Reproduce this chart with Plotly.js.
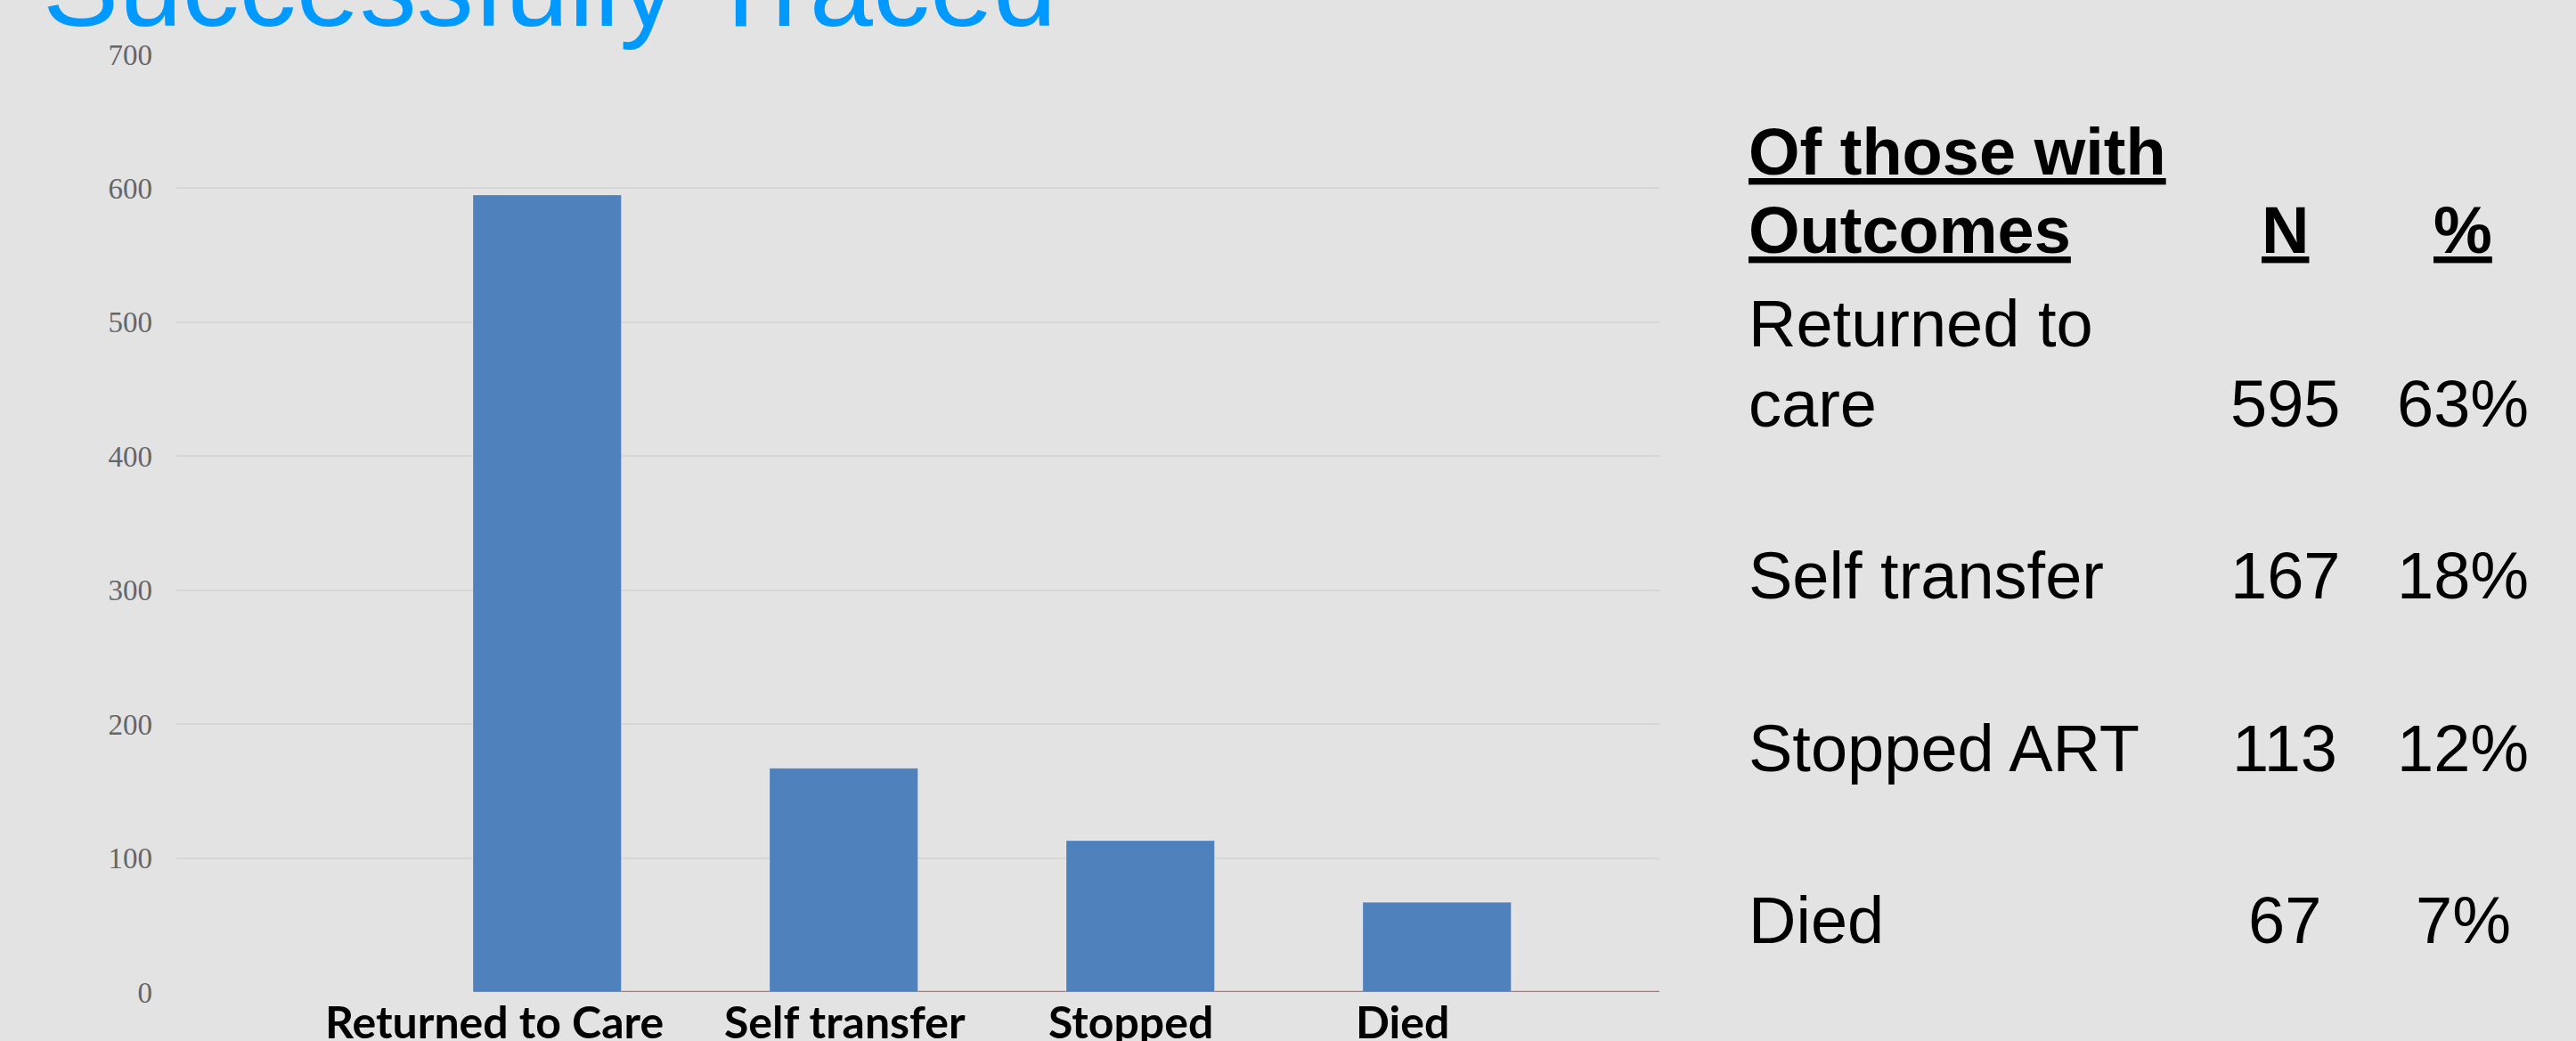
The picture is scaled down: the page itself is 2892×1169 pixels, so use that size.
<!DOCTYPE html>
<html>
<head>
<meta charset="utf-8">
<script src="https://cdn.plot.ly/plotly-3.0.1.min.js"></script>
<style>
  html, body { margin: 0; padding: 0; background: #e3e3e3; }
  #chart { width: 2892px; height: 1169px; }
</style>
</head>
<body>
<div id="chart"></div>
<script>
// ---- data ----
const categories = ["Returned to Care", "Self transfer", "Stopped<br>ART", "Died"];
const outcomeCounts = [595, 167, 113, 67];
const secondSeries = [0, 0, 0, 0];
const yTickValues = [0, 100, 200, 300, 400, 500, 600, 700];

const chartTitle = "Successfully Traced";
const tableHeader = ["Of those with", "Outcomes"];
const tableColN = "N";
const tableColPct = "%";
const tableRowLabels = ["Returned to<br>care", "Self transfer", "Stopped ART", "Died"];
const tableN = ["595", "167", "113", "67"];
const tablePct = ["63%", "18%", "12%", "7%"];

// ---- layout geometry (pixels) ----
const W = 2892, H = 1169;
const L = 198, T = 61, PW = 1665, PH = 1053;
const px = x => (x - L) / PW;
const py = y => (T + PH - y) / PH;

const sansFont = "Liberation Sans, Arial, sans-serif";
const tblSize = 74;
const desc = 0.212;
const innerLineGap = 90;
// horizontal nudges of the category labels (pixels), as placed in the original slide
const catLabelShift = [-143, -82, -94, -122];

function tblAnno(text, x, baseline, anchor, bold) {
  return {
    text: bold ? "<b><u>" + text + "</u></b>" : text,
    xref: "paper", yref: "paper",
    x: px(x), y: py(baseline + desc * tblSize),
    xanchor: anchor, yanchor: "bottom",
    showarrow: false, borderpad: 0, align: "left",
    font: { family: sansFont, size: tblSize, color: "#000000" }
  };
}

const annotations = [];
// title
annotations.push({
  text: chartTitle,
  xref: "paper", yref: "paper",
  x: px(47), y: py(30 + desc * 128),
  xanchor: "left", yanchor: "bottom",
  showarrow: false, borderpad: 0,
  font: { family: sansFont, size: 128, color: "#0099FF" }
});
// category labels under the bars
categories.forEach((c, i) => {
  annotations.push({
    text: "<b>" + c + "</b>",
    xref: "x", yref: "paper",
    x: c, y: 0,
    xanchor: "center", yanchor: "top",
    xshift: catLabelShift[i], yshift: -2,
    showarrow: false, borderpad: 0, align: "center",
    font: { family: "Lato, Carlito, sans-serif", size: 50, color: "#000000" }
  });
});
// table header
annotations.push(tblAnno(tableHeader[0], 1962, 197, "left", true));
annotations.push(tblAnno(tableHeader[1], 1962, 285, "left", true));
annotations.push(tblAnno(tableColN, 2565, 285, "center", true));
annotations.push(tblAnno(tableColPct, 2765, 285, "center", true));
// table rows
const rowBaselines = [480, 673, 867, 1060];
tableRowLabels.forEach((lab, i) => {
  const lines = lab.split("<br>");
  lines.forEach((ln, j) => {
    const b = rowBaselines[i] - (lines.length - 1 - j) * innerLineGap;
    annotations.push(tblAnno(ln, 1962, b, "left", false));
  });
  annotations.push(tblAnno(tableN[i], 2565, rowBaselines[i], "center", false));
  annotations.push(tblAnno(tablePct[i], 2765, rowBaselines[i], "center", false));
});

const traces = [
  {
    type: "bar",
    x: categories,
    y: outcomeCounts,
    marker: { color: "#4F81BD", line: { color: "rgba(255,255,255,0.25)", width: 1 } },
    hoverinfo: "x+y"
  },
  {
    type: "bar",
    x: categories,
    y: secondSeries,
    marker: { color: "#d06b66", line: { color: "#d06b66", width: 2.5 } },
    hoverinfo: "x+y"
  }
];

const layout = {
  width: W, height: H,
  margin: { l: L, r: W - L - PW, t: T, b: H - T - PH, pad: 0 },
  paper_bgcolor: "#e3e3e3",
  plot_bgcolor: "#e3e3e3",
  showlegend: false,
  barmode: "group",
  bargap: 0,
  bargroupgap: 0,
  xaxis: {
    type: "category",
    range: [-1.5, 3.5],
    showgrid: false,
    zeroline: false,
    showline: false,
    ticks: "",
    showticklabels: false,
    automargin: false,
    fixedrange: true
  },
  yaxis: {
    range: [0, 700],
    tickvals: yTickValues,
    showgrid: true,
    gridcolor: "#d6d6d6",
    gridwidth: 2,
    zeroline: false,
    showline: false,
    ticks: "",
    automargin: false,
    ticklabelstandoff: 26,
    tickfont: { family: "Liberation Serif, Times New Roman, serif", size: 33, color: "#666666" },
    fixedrange: true
  },
  annotations: annotations
};

Plotly.newPlot("chart", traces, layout, { displayModeBar: false, staticPlot: true });
</script>
</body>
</html>
